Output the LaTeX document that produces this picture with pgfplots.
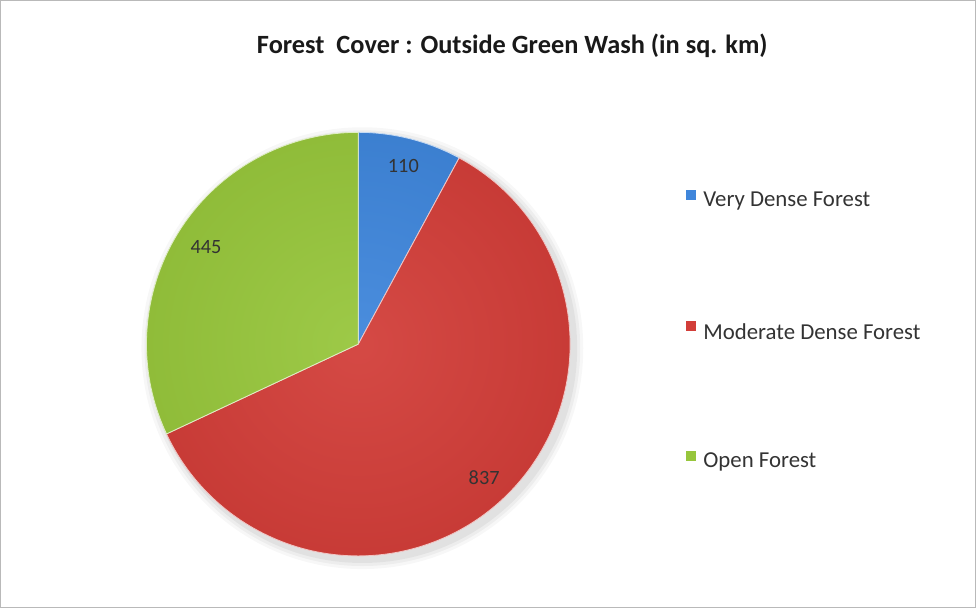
\documentclass[border=0pt]{standalone}
\usepackage{pgfplots}
\usepackage{pgfplotstable}
\pgfplotsset{compat=1.18}
\usetikzlibrary{calc}
\usepackage{fontspec}
\setmainfont{Carlito}
\definecolor{vdf}{HTML}{3F86DB}
\definecolor{mdf}{HTML}{D23E39}
\definecolor{opf}{HTML}{97C63C}
\pgfplotstableread{
label value
VeryDense 110
ModerateDense 837
Open 445
}\piedata
\pgfplotstablegetelem{0}{value}\of\piedata \let\va\pgfplotsretval
\pgfplotstablegetelem{1}{value}\of\piedata \let\vb\pgfplotsretval
\pgfplotstablegetelem{2}{value}\of\piedata \let\vc\pgfplotsretval
\pgfmathsetmacro\tot{\va+\vb+\vc}
\pgfmathsetmacro\aA{90}
\pgfmathsetmacro\aB{90-360*(\va/\tot)}
\pgfmathsetmacro\aC{\aB-360*(\vb/\tot)}
\pgfmathsetmacro\aD{\aC-360*(\vc/\tot)}
\pgfmathsetmacro\mA{(\aA+\aB)/2}
\pgfmathsetmacro\mB{(\aB+\aC)/2}
\pgfmathsetmacro\mC{(\aC+\aD)/2}
\newcommand\pieslice[3]{%
  \begin{scope}
    \clip (axis cs:360,266) -- ++(#1:209pt) arc[start angle=#1, end angle=#2, radius=209pt] -- cycle;
    \shade[inner color=#3!94!white, outer color=#3!95!black] (axis cs:360,266) circle[radius=209pt];
  \end{scope}
  \draw[white!70!#3, line width=0.8pt] (axis cs:360,266) -- ++(#1:209pt) arc[start angle=#1, end angle=#2, radius=209pt] -- cycle;
}
\begin{document}
\begin{tikzpicture}
\begin{axis}[
  width=976pt, height=612pt, scale only axis,
  xmin=0, xmax=976, ymin=0, ymax=612,
  hide axis, clip=false,
]
% frame
\draw[gray!55, line width=1.2pt] (axis cs:7,6) rectangle (axis cs:969,605);
% title
\node[font=\bfseries\fontsize{26}{30}\selectfont, text=black!90] at (axis cs:512,560) {Forest\ \ Cover : Outside Green Wash (in sq. km)};
% shadow
\fill[black, opacity=0.03] (axis cs:364,262) circle[radius=218pt];
\fill[black, opacity=0.04] (axis cs:364,262) circle[radius=215pt];
\fill[black, opacity=0.05] (axis cs:364,262) circle[radius=212pt];
\pieslice{\aA}{\aB}{vdf}
\pieslice{\aB}{\aC}{mdf}
\pieslice{\aC}{\aD}{opf}
% data labels
\node[font=\fontsize{20}{24}\selectfont, text=black!80] at ($(axis cs:360,266)+(\mA:181pt)$) {110};
\node[font=\fontsize{20}{24}\selectfont, text=black!80] at ($(axis cs:360,266)+(\mB:181pt)$) {837};
\node[font=\fontsize{20}{24}\selectfont, text=black!80] at ($(axis cs:360,266)+(\mC:178pt)$) {445};
% legend
\fill[vdf] (axis cs:683,408) rectangle (axis cs:693,418);
\node[anchor=west, font=\fontsize{22.5}{26}\selectfont, text=black!80] at (axis cs:697,407) {Very Dense Forest};
\fill[mdf] (axis cs:683,279) rectangle (axis cs:693,289);
\node[anchor=west, font=\fontsize{22.5}{26}\selectfont, text=black!80] at (axis cs:697,278) {Moderate Dense Forest};
\fill[opf] (axis cs:683,151) rectangle (axis cs:693,161);
\node[anchor=west, font=\fontsize{22.5}{26}\selectfont, text=black!80] at (axis cs:697,150) {Open Forest};
\end{axis}
\end{tikzpicture}
\end{document}
